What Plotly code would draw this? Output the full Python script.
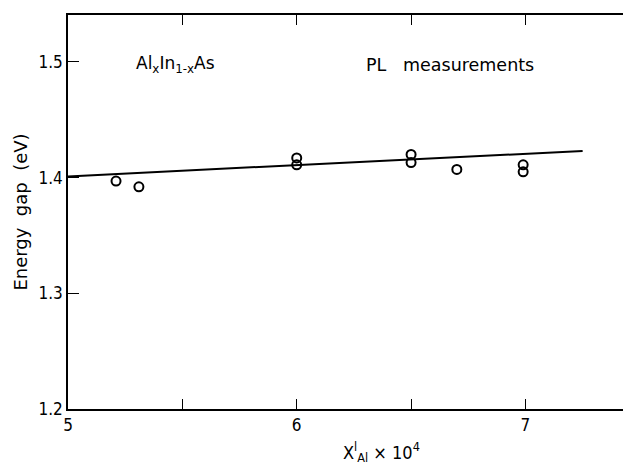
import plotly.graph_objects as go

# Data
x_al = [5.21, 5.31, 6.00, 6.00, 6.50, 6.50, 6.70, 6.99, 6.99]
gap_ev = [1.397, 1.392, 1.417, 1.411, 1.420, 1.413, 1.407, 1.411, 1.405]
fit_x = [5.0, 7.25]
fit_y = [1.401, 1.423]

x_tickvals = [5, 5.5, 6, 6.5, 7]
x_ticktext = ["5", "", "6", "", "7"]
y_tickvals = [1.2, 1.3, 1.4, 1.5]
y_ticktext = ["1.2", "1.3", "1.4", "1.5"]

NARROW = "DejaVu Sans Condensed, Liberation Sans Narrow, Liberation Sans, Arial"
WIDE = "DejaVu Sans, Liberation Sans, Arial"

fig = go.Figure()
fig.add_trace(go.Scatter(x=fit_x, y=fit_y, mode="lines",
                         line=dict(color="black", width=2), showlegend=False))
fig.add_trace(go.Scatter(x=x_al, y=gap_ev, mode="markers",
                         marker=dict(symbol="circle-open", size=9, color="black",
                                     line=dict(width=2, color="black")),
                         showlegend=False))

fig.add_annotation(x=5.47, y=1.4975, xref="x", yref="y",
                   text="Al<sub>x</sub>In<sub>1-x</sub>As", showarrow=False,
                   font=dict(family=WIDE, size=17, color="black"))
fig.add_annotation(x=6.67, y=1.4975, xref="x", yref="y",
                   text="PL   measurements", showarrow=False,
                   font=dict(family=WIDE, size=17.5, color="black"))
fig.add_annotation(x=6.37, y=-0.11, xref="x", yref="paper", yanchor="middle",
                   text="X<sup>l</sup><sub>Al</sub> × 10<sup>4</sup>", showarrow=False,
                   font=dict(family=NARROW, size=18, color="black"))

fig.update_layout(
    width=631, height=464,
    margin=dict(l=60, r=2, t=7, b=63),
    paper_bgcolor="white", plot_bgcolor="white",
    font=dict(family=NARROW, size=17, color="black"),
    xaxis=dict(range=[5, 7.479], tickvals=x_tickvals, ticktext=x_ticktext,
               ticks="inside", ticklen=10, tickwidth=1.2, tickcolor="black",
               showline=True, linecolor="black", linewidth=1.5, mirror="ticks",
               showgrid=False, zeroline=False),
    yaxis=dict(range=[1.2, 1.5405], tickvals=y_tickvals, ticktext=y_ticktext,
               ticks="inside", ticklen=11, tickwidth=1.2, tickcolor="black",
               showline=True, linecolor="black", linewidth=1.5, mirror="ticks",
               showgrid=False, zeroline=False,
               title=dict(text="Energy  gap  (eV)", standoff=6,
                          font=dict(family=WIDE, size=18))),
)

fig.write_html("out.html")
